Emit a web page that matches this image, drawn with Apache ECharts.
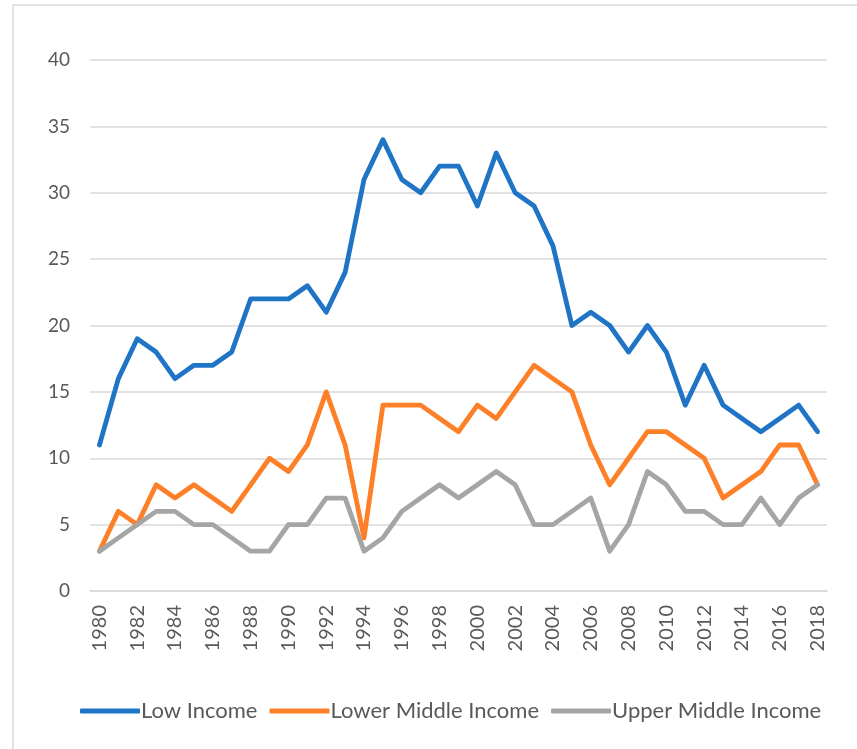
<!DOCTYPE html>
<html>
<head>
<meta charset="utf-8">
<title>Income groups 1980-2018</title>
<script src="https://cdn.jsdelivr.net/npm/echarts@6/dist/echarts.min.js"></script>
<style>
  body { margin: 0; background: #fff; }
  #main { width: 857px; height: 749px; }
</style>
</head>
<body>
<div id="main"></div>
<script>
var years = [];
for (var y = 1980; y <= 2018; y++) years.push(String(y));

var lowIncome = [11, 16, 19, 18, 16, 17, 17, 18, 22, 22, 22, 23, 21, 24, 31, 34, 31, 30, 32, 32,
                 29, 33, 30, 29, 26, 20, 21, 20, 18, 20, 18, 14, 17, 14, 13, 12, 13, 14, 12];
var lowerMiddle = [3, 6, 5, 8, 7, 8, 7, 6, 8, 10, 9, 11, 15, 11, 4, 14, 14, 14, 13, 12,
                   14, 13, 15, 17, 16, 15, 11, 8, 10, 12, 12, 11, 10, 7, 8, 9, 11, 11, 8];
var upperMiddle = [3, 4, 5, 6, 6, 5, 5, 4, 3, 3, 5, 5, 7, 7, 3, 4, 6, 7, 8, 7,
                   8, 9, 8, 5, 5, 6, 7, 3, 5, 9, 8, 6, 6, 5, 5, 7, 5, 7, 8];

var textColor = '#595959';
var gridColor = '#d9d9d9';
var font = 'Lato, "Open Sans", sans-serif';

function lineSeries(name, data, color) {
  return {
    name: name,
    type: 'line',
    data: data,
    symbol: 'none',
    lineStyle: { width: 4.8, color: color, cap: 'round', join: 'round' },
    itemStyle: { color: color }
  };
}

var chart = echarts.init(document.getElementById('main'));
chart.setOption({
  animation: false,
  graphic: [{
    type: 'rect',
    shape: { x: 13, y: 5, width: 900, height: 800 },
    style: { fill: null, stroke: gridColor, lineWidth: 1.5 },
    silent: true
  }],
  grid: { left: 90, right: 30, top: 60, bottom: 158 },
  legend: {
    bottom: 22,
    left: 75,
    itemWidth: 60,
    itemHeight: 5,
    itemGap: 12,
    icon: 'roundRect',
    textStyle: { color: textColor, fontSize: 22, fontFamily: font, padding: [0, 0, 0, -4] },
    data: ['Low Income', 'Lower Middle Income', 'Upper Middle Income']
  },
  xAxis: {
    type: 'category',
    data: years,
    boundaryGap: true,
    axisLine: { lineStyle: { color: gridColor, width: 1.5 } },
    axisTick: { show: false },
    axisLabel: {
      interval: 1,
      rotate: 90,
      color: textColor,
      fontSize: 20,
      fontFamily: font,
      margin: 14
    }
  },
  yAxis: {
    type: 'value',
    min: 0,
    max: 40,
    interval: 5,
    axisLine: { show: false },
    axisTick: { show: false },
    axisLabel: { color: textColor, fontSize: 19, fontFamily: font, margin: 20 },
    splitLine: { lineStyle: { color: gridColor, width: 1.5 } }
  },
  series: [
    lineSeries('Low Income', lowIncome, '#1f74c6'),
    lineSeries('Lower Middle Income', lowerMiddle, '#fd7f27'),
    lineSeries('Upper Middle Income', upperMiddle, '#a5a5a5')
  ]
});
</script>
</body>
</html>
